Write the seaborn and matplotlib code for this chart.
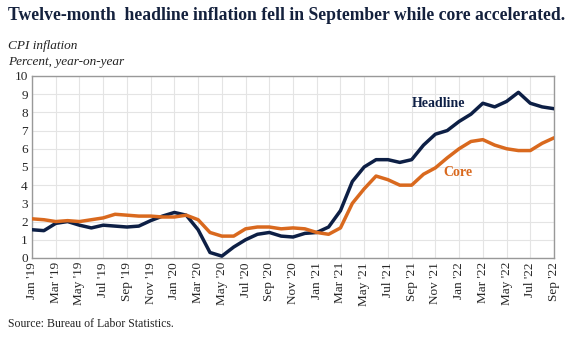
import matplotlib
matplotlib.use("Agg")
import matplotlib.pyplot as plt
import seaborn as sns
import pandas as pd
import numpy as np

months = pd.date_range("2019-01-01", "2022-09-01", freq="MS")
month_labels = [d.strftime("%b '%y") for d in months]

headline = [1.55, 1.5, 1.9, 2.0, 1.8, 1.65, 1.8, 1.75, 1.7, 1.75, 2.05, 2.3,
            2.5, 2.35, 1.55, 0.3, 0.1, 0.6, 1.0, 1.3, 1.4, 1.2, 1.15, 1.35,
            1.4, 1.7, 2.6, 4.2, 5.0, 5.4, 5.4, 5.25, 5.4, 6.2, 6.8, 7.0,
            7.5, 7.9, 8.5, 8.3, 8.6, 9.1, 8.5, 8.3, 8.2]
core = [2.15, 2.1, 2.0, 2.05, 2.0, 2.1, 2.2, 2.4, 2.35, 2.3, 2.3, 2.25,
        2.25, 2.35, 2.1, 1.4, 1.2, 1.2, 1.6, 1.7, 1.7, 1.6, 1.65, 1.6,
        1.4, 1.3, 1.65, 3.0, 3.8, 4.5, 4.3, 4.0, 4.0, 4.6, 4.95, 5.5,
        6.0, 6.4, 6.5, 6.2, 6.0, 5.9, 5.9, 6.3, 6.6]

df = pd.DataFrame({
    "idx": list(range(len(months))) * 2,
    "value": headline + core,
    "series": ["Headline"] * len(months) + ["Core"] * len(months),
})

sns.set_theme(style="white")
plt.rcParams["font.family"] = ["Liberation Serif", "DejaVu Serif"]

navy = "#0d1f45"
orange = "#d9691e"

fig = plt.figure(figsize=(5.75, 3.5), dpi=100)
ax = fig.add_axes([0.0557, 0.263, 0.9078, 0.52])

sns.lineplot(data=df, x="idx", y="value", hue="series",
             palette={"Headline": navy, "Core": orange},
             linewidth=2.5, ax=ax, legend=False, zorder=3)

ax.set_xlim(0, len(months) - 1)
ax.set_ylim(0, 10)
ax.set_yticks(range(0, 11))
ax.set_yticklabels([str(i) for i in range(0, 11)], fontsize=9.5)
ticks = list(range(0, len(months), 2))
ax.set_xticks(ticks)
ax.set_xticklabels([month_labels[i] for i in ticks], rotation=90, fontsize=9.5)
ax.tick_params(axis="both", length=0, pad=3)
ax.grid(True, color="#e4e4e4", linewidth=0.8, zorder=0)
ax.set_xlabel("")
ax.set_ylabel("")
for s in ax.spines.values():
    s.set_color("#999999")
    s.set_linewidth(1.0)

ax.text(34.3, 8.5, "Headline", color=navy, fontsize=10, fontweight="bold",
        ha="center", va="center")
ax.text(35.9, 4.67, "Core", color=orange, fontsize=10, fontweight="bold",
        ha="center", va="center")

fig.text(0.014, 0.955, "Twelve-month  headline inflation fell in September while core accelerated.",
         fontsize=12.7, fontweight="bold", color="#14213d", ha="left", va="center")
fig.text(0.014, 0.868, "CPI inflation", fontsize=9.5, style="italic", color="#222222",
         ha="left", va="center")
fig.text(0.014, 0.823, "Percent, year-on-year", fontsize=9.5, style="italic", color="#222222",
         ha="left", va="center")
fig.text(0.014, 0.073, "Source: Bureau of Labor Statistics.", fontsize=8.5, color="#222222",
         ha="left", va="center")

fig.savefig("out.png", dpi=100, facecolor="white")
